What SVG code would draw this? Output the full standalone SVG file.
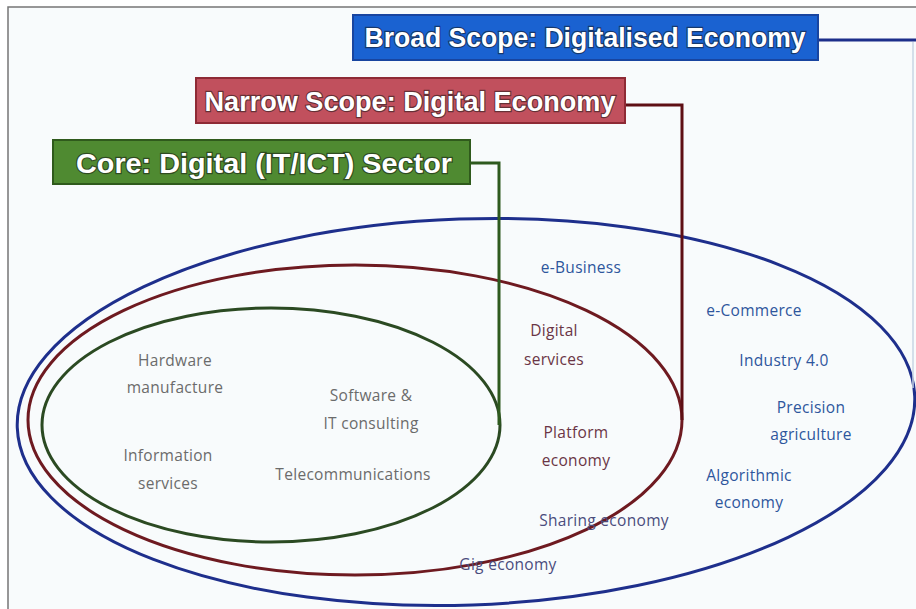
<svg xmlns="http://www.w3.org/2000/svg" width="916" height="609" viewBox="0 0 916 609">
  <style>
    .ell { fill: none; stroke-width: 3; }
    .conn { fill: none; stroke-width: 3; }
    .boxtxt { font-family: "Liberation Sans", Arial, sans-serif; font-weight: bold; font-size: 28px; fill: #ffffff; stroke: rgba(20,20,20,0.55); stroke-width: 2.4px; paint-order: stroke; text-anchor: middle; }
    .lbl { font-family: "Open Sans", "Liberation Sans", sans-serif; font-size: 15.5px; text-anchor: middle; letter-spacing: 0.3px; }
    .grey { fill: #6b6b6b; }
    .blue { fill: #2e569c; }
    .maroon { fill: #6a3545; }
    .navy { fill: #4a4c7c; }
  </style>
  <rect x="0" y="0" width="916" height="609" fill="#ffffff"/>
  <rect x="8" y="7" width="930" height="620" fill="#f8fbfc" stroke="#767676" stroke-width="1.5"/>

  <g id="ellipses">
    <ellipse id="broad-ellipse" class="ell" cx="466" cy="412" rx="449" ry="193" transform="rotate(-2 466 412)" stroke="#1e2f8c"/>
    <ellipse id="narrow-ellipse" class="ell" cx="355" cy="420" rx="327" ry="155" stroke="#6e1a20"/>
    <ellipse id="core-ellipse" class="ell" cx="271" cy="425" rx="229" ry="117" stroke="#2b4a22"/>
  </g>

  <g id="connectors">
    <path class="conn" d="M470,163 H499 V425" stroke="#2e5a1e"/>
    <path class="conn" d="M625,105 H682 V420" stroke="#5e0f14"/>
    <path class="conn" d="M818,40 H916" stroke="#1c2e8a"/>
    <path d="M913,42 V388" fill="none" stroke="#c9d6e4" stroke-width="1.5"/>
  </g>

  <g id="node-broad">
    <rect x="353" y="15" width="465" height="45" fill="#1a62d1" stroke="#1845a0" stroke-width="2"/>
    <text class="boxtxt" x="585" y="47" textLength="441" lengthAdjust="spacingAndGlyphs">Broad Scope: Digitalised Economy</text>
  </g>
  <g id="node-narrow">
    <rect x="196" y="78" width="429" height="45" fill="#c1505d" stroke="#8e2a35" stroke-width="2"/>
    <text class="boxtxt" x="410" y="111" textLength="411" lengthAdjust="spacingAndGlyphs">Narrow Scope: Digital Economy</text>
  </g>
  <g id="node-core">
    <rect x="53" y="140" width="417" height="44" fill="#4f8a31" stroke="#2f5a1c" stroke-width="2"/>
    <text class="boxtxt" x="264" y="173" textLength="376" lengthAdjust="spacingAndGlyphs">Core: Digital (IT/ICT) Sector</text>
  </g>

  <g id="core-labels">
    <text class="lbl grey" x="175" y="366">Hardware</text>
    <text class="lbl grey" x="175" y="393">manufacture</text>
    <text class="lbl grey" x="371" y="401">Software &amp;</text>
    <text class="lbl grey" x="371" y="429">IT consulting</text>
    <text class="lbl grey" x="168" y="461">Information</text>
    <text class="lbl grey" x="168" y="489">services</text>
    <text class="lbl grey" x="353" y="480">Telecommunications</text>
  </g>

  <g id="narrow-labels">
    <text class="lbl blue" x="581" y="273">e-Business</text>
    <text class="lbl maroon" x="554" y="336">Digital</text>
    <text class="lbl maroon" x="554" y="365">services</text>
    <text class="lbl maroon" x="576" y="438">Platform</text>
    <text class="lbl maroon" x="576" y="466">economy</text>
    <text class="lbl navy" x="604" y="526">Sharing economy</text>
    <text class="lbl navy" x="508" y="570">Gig economy</text>
  </g>

  <g id="broad-labels">
    <text class="lbl blue" x="754" y="316">e-Commerce</text>
    <text class="lbl blue" x="784" y="366">Industry 4.0</text>
    <text class="lbl blue" x="811" y="413">Precision</text>
    <text class="lbl blue" x="811" y="440">agriculture</text>
    <text class="lbl blue" x="749" y="481">Algorithmic</text>
    <text class="lbl blue" x="749" y="508">economy</text>
  </g>
</svg>
